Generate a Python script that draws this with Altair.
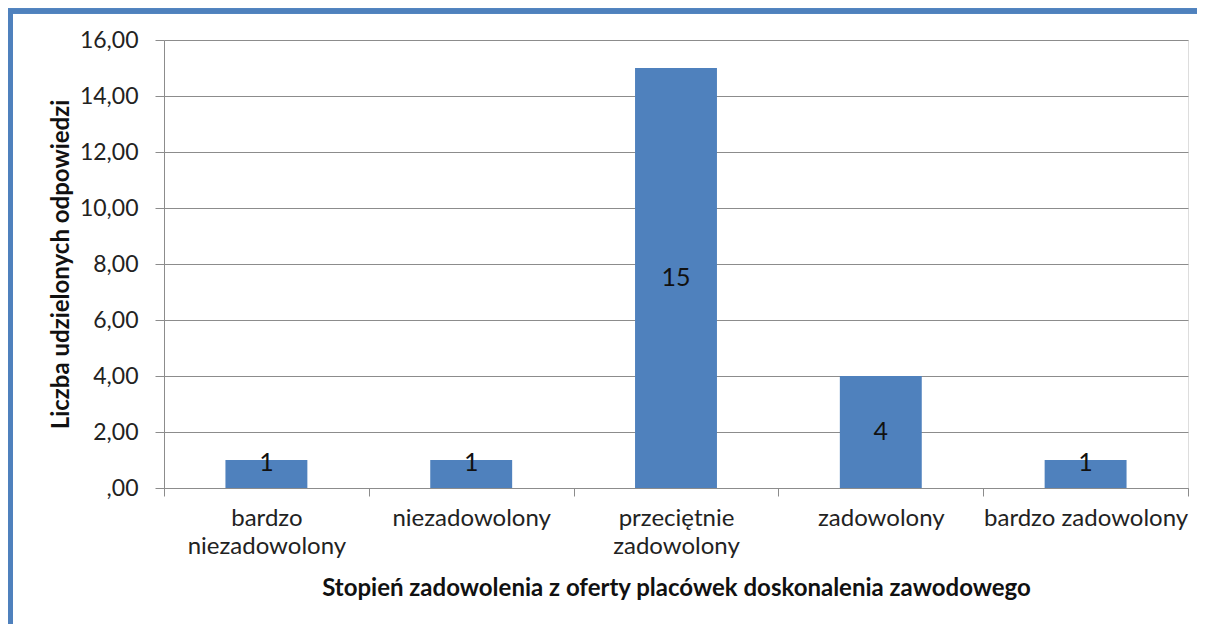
import altair as alt
import pandas as pd

categories = ["bardzo niezadowolony", "niezadowolony", "przeciętnie zadowolony", "zadowolony", "bardzo zadowolony"]
values = [1, 1, 15, 4, 1]
y_ticks = [0, 2, 4, 6, 8, 10, 12, 14, 16]

df = pd.DataFrame({"kat": categories, "val": values})

FONT = "Lato"
GRAY = "#8c8c8c"
BLUE = "#4f81bd"

x_enc = alt.X(
    "kat:N",
    sort=categories,
    scale=alt.Scale(paddingInner=0, paddingOuter=0),
    axis=alt.Axis(
        title="Stopień zadowolenia z oferty placówek doskonalenia zawodowego",
        labelAngle=0,
        labelLimit=0,
        tickBand="extent",
        tickSize=8,
        tickColor=GRAY,
        domainColor=GRAY,
        labelFont=FONT,
        labelFontSize=24,
        labelColor="#222222",
        labelPadding=10,
        labelLineHeight=28,
        labelBaseline="top",
        labelExpr="datum.label == 'bardzo niezadowolony' ? ['bardzo', 'niezadowolony'] : datum.label == 'przeciętnie zadowolony' ? ['przeciętnie', 'zadowolony'] : datum.label",
        titleFont=FONT,
        titleFontSize=24,
        titleFontWeight="bold",
        titleColor="#111111",
        titlePadding=18,
    ),
)

bars = alt.Chart(df).mark_bar(color=BLUE, width=alt.RelativeBandSize(0.4)).encode(
    x=x_enc,
    y=alt.Y(
        "val:Q",
        scale=alt.Scale(domain=[0, 16], nice=False),
        axis=alt.Axis(
            title="Liczba udzielonych odpowiedzi",
            values=y_ticks,
            grid=True,
            gridColor=GRAY,
            tickColor=GRAY,
            domainColor=GRAY,
            tickSize=9,
            labelFont=FONT,
            labelFontSize=23,
            labelColor="#222222",
            labelPadding=17,
            labelExpr="datum.value == 0 ? ',00' : replace(format(datum.value, '.2f'), '.', ',')",
            titleFont=FONT,
            titleFontSize=24,
            titleFontWeight="bold",
            titleColor="#111111",
            titlePadding=6,
        ),
    ),
)

labels = alt.Chart(df).transform_calculate(
    ly="max(datum.val / 2, 0.9)"
).mark_text(font=FONT, fontSize=25, color="#111111", baseline="middle").encode(
    x=alt.X("kat:N", sort=categories),
    y=alt.Y("ly:Q"),
    text="val:Q",
)

border_left = alt.Chart(df).mark_rule(color=BLUE, strokeWidth=5).encode(
    x=alt.value(-153.5), y=alt.value(-31), y2=alt.value(620)
)
border_top = alt.Chart(df).mark_rule(color=BLUE, strokeWidth=5).encode(
    y=alt.value(-29), x=alt.value(-156), x2=alt.value(1100)
)

chart = alt.layer(bars, labels, border_left, border_top).properties(
    width=1024,
    height=448,
    autosize=alt.AutoSizeParams(type="none"),
    padding={"left": 156, "top": 32, "right": 9, "bottom": 136},
).configure_view(stroke=None).configure(background="white")

chart.save("out.html", embed_options={"renderer": "svg", "actions": False})
